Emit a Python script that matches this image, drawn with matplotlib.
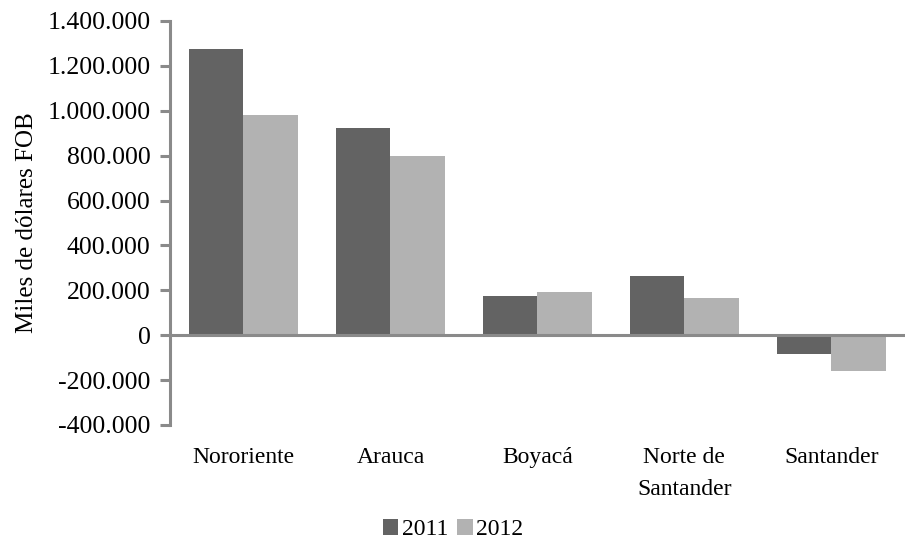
import numpy as np
import matplotlib.pyplot as plt
from matplotlib.ticker import FuncFormatter

regiones = ["Nororiente", "Arauca", "Boyacá", "Norte de\nSantander", "Santander"]
v2011 = [1275000, 921000, 176000, 263000, -83000]
v2012 = [980000, 800000, 193000, 167000, -159000]
yticks = [-400000, -200000, 0, 200000, 400000, 600000, 800000, 1000000, 1200000, 1400000]

plt.rcParams['font.family'] = ['Liberation Serif', 'DejaVu Serif']
gris = "#8a8a8a"

fig = plt.figure(figsize=(9.06, 5.45), dpi=100)
ax = fig.add_axes([0.1876, 0.2202, 0.811, 0.7413])

x = np.arange(len(regiones))
w = 0.37
ax.bar(x - w/2, v2011, w, color="#636363", label="2011")
ax.bar(x + w/2, v2012, w, color="#b2b2b2", label="2012")

ax.axhline(0, color=gris, lw=2.2, zorder=3)
ax.set_xlim(-0.5, len(regiones) - 0.5)
ax.set_ylim(-400000, 1400000)
ax.set_yticks(yticks)
ax.yaxis.set_major_formatter(FuncFormatter(lambda v, p: f"{v:,.0f}".replace(",", ".")))

for s in ["top", "right", "bottom"]:
    ax.spines[s].set_visible(False)
ax.spines["left"].set_color(gris)
ax.spines["left"].set_linewidth(2.2)
ax.tick_params(axis="y", colors=gris, length=7, width=2.2, labelcolor="black", labelsize=18.5, pad=7)
ax.tick_params(axis="x", length=0, labelsize=17, pad=16)
ax.set_xticks(x)
ax.set_xticklabels(regiones, linespacing=1.65)
ax.set_ylabel("Miles de dólares FOB", fontsize=18, labelpad=7)

fig.legend(loc="lower center", bbox_to_anchor=(0.5, -0.03), ncol=2, frameon=False,
           fontsize=17, handlelength=0.65, handleheight=0.65, handletextpad=0.15, columnspacing=0.4)

fig.savefig("out.png", dpi=100)
